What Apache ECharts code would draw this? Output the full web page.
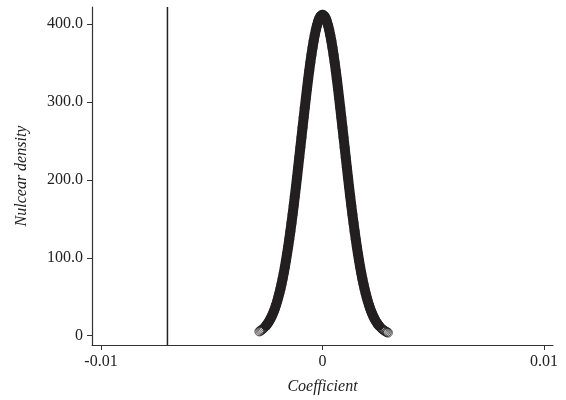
<!DOCTYPE html>
<html>
<head>
<meta charset="utf-8">
<script src="https://cdn.jsdelivr.net/npm/echarts@6/dist/echarts.min.js"></script>
<style>html,body{margin:0;padding:0;background:#fff;}#c{width:566px;height:400px;}</style>
</head>
<body>
<div id="c"></div>
<script>
// Coefficient values (x), step 0.00005
var coefX = [
-0.00285,-0.00280,-0.00275,-0.00270,-0.00265,-0.00260,-0.00255,-0.00250,-0.00245,-0.00240,
-0.00235,-0.00230,-0.00225,-0.00220,-0.00215,-0.00210,-0.00205,-0.00200,-0.00195,-0.00190,
-0.00185,-0.00180,-0.00175,-0.00170,-0.00165,-0.00160,-0.00155,-0.00150,-0.00145,-0.00140,
-0.00135,-0.00130,-0.00125,-0.00120,-0.00115,-0.00110,-0.00105,-0.00100,-0.00095,-0.00090,
-0.00085,-0.00080,-0.00075,-0.00070,-0.00065,-0.00060,-0.00055,-0.00050,-0.00045,-0.00040,
-0.00035,-0.00030,-0.00025,-0.00020,-0.00015,-0.00010,-0.00005,0.00000,
0.00005,0.00010,0.00015,0.00020,0.00025,0.00030,0.00035,0.00040,0.00045,0.00050,
0.00055,0.00060,0.00065,0.00070,0.00075,0.00080,0.00085,0.00090,0.00095,0.00100,
0.00105,0.00110,0.00115,0.00120,0.00125,0.00130,0.00135,0.00140,0.00145,0.00150,
0.00155,0.00160,0.00165,0.00170,0.00175,0.00180,0.00185,0.00190,0.00195,0.00200,
0.00205,0.00210,0.00215,0.00220,0.00225,0.00230,0.00235,0.00240,0.00245,0.00250,
0.00255,0.00260,0.00265,0.00270,0.00275,0.00280,0.00285,0.00290,0.00295
];
// Nuclear density values
var density = [
5.4,6.3,7.3,8.4,9.7,11.1,12.8,14.6,16.7,19.0,
21.6,24.5,27.6,31.1,34.9,39.1,43.7,48.7,54.1,59.9,
66.3,73.0,80.3,88.1,96.3,105.0,114.2,123.9,134.1,144.7,
155.7,167.1,178.8,190.9,203.3,215.9,228.7,241.6,254.5,267.4,
280.2,292.8,305.2,317.2,328.9,340.0,350.6,360.5,369.8,378.3,
385.9,392.7,398.5,403.3,407.1,409.8,411.5,412.0,
411.5,409.8,407.1,403.3,398.5,392.7,385.9,378.3,369.8,360.5,
350.6,340.0,328.9,317.2,305.2,292.8,280.2,267.4,254.5,241.6,
228.7,215.9,203.3,190.9,178.8,167.1,155.7,144.7,134.1,123.9,
114.2,105.0,96.3,88.1,80.3,73.0,66.3,59.9,54.1,48.7,
43.7,39.1,34.9,31.1,27.6,24.5,21.6,19.0,16.7,14.6,
12.8,11.1,9.7,8.4,7.3,6.3,5.4,4.6,3.9
];
var refLineX = -0.007;
var xMin = -0.010406, xMax = 0.010406;
var yMin = -12, yMax = 422;
var xTicks = [-0.01, 0, 0.01];
var xTickLabels = ["-0.01", "0", "0.01"];
var yTicks = [0, 100, 200, 300, 400];
var yTickLabels = ["0", "100.0", "200.0", "300.0", "400.0"];

var pts = coefX.map(function (x, i) { return [x, density[i]]; });
var bandPts = pts.filter(function (p) { return p[1] >= 12; });

var ink = '#231f20';
var font = 'Liberation Serif';
var chart = echarts.init(document.getElementById('c'), null, {renderer: 'canvas'});
chart.setOption({
  animation: false,
  backgroundColor: '#fff',
  grid: {left: 92, right: 13, top: 7, bottom: 54, containLabel: false},
  xAxis: {
    type: 'value', min: xMin, max: xMax,
    name: 'Coefficient', nameLocation: 'middle', nameGap: 34,
    nameTextStyle: {fontFamily: font, fontStyle: 'italic', fontSize: 16, color: '#222'},
    axisLine: {show: true, onZero: false, lineStyle: {color: '#333', width: 1.2}},
    axisTick: {show: true, length: 5, customValues: xTicks, lineStyle: {color: '#333'}},
    axisLabel: {customValues: xTicks, margin: 9, fontFamily: font, fontSize: 16, color: '#222',
      formatter: function (v) { var i = xTicks.indexOf(v); return i >= 0 ? xTickLabels[i] : ''; }},
    splitLine: {show: false}
  },
  yAxis: {
    type: 'value', min: yMin, max: yMax,
    name: 'Nulcear density', nameLocation: 'middle', nameGap: 62, nameRotate: 90,
    nameTextStyle: {fontFamily: font, fontStyle: 'italic', fontSize: 16, color: '#222'},
    axisLine: {show: true, onZero: false, lineStyle: {color: '#333', width: 1.2}},
    axisTick: {show: true, length: 5, customValues: yTicks, lineStyle: {color: '#333'}},
    axisLabel: {customValues: yTicks, margin: 9, fontFamily: font, fontSize: 16, color: '#222',
      formatter: function (v) { var i = yTicks.indexOf(v); return i >= 0 ? yTickLabels[i] : ''; }},
    splitLine: {show: false}
  },
  series: [
    {
      type: 'line', data: [[refLineX, yMin], [refLineX, yMax]], symbol: 'none',
      lineStyle: {color: '#222', width: 1.5}, z: 1, silent: true
    },
    {
      type: 'line', data: bandPts, showSymbol: false, symbol: 'none', smooth: false,
      lineStyle: {color: ink, width: 10, cap: 'round', join: 'round'},
      z: 2, silent: true
    },
    {
      type: 'scatter', data: pts, symbol: 'circle', symbolSize: 9,
      itemStyle: {color: 'rgba(0,0,0,0)', borderColor: ink, borderWidth: 1},
      z: 3
    }
  ]
});
</script>
</body>
</html>
